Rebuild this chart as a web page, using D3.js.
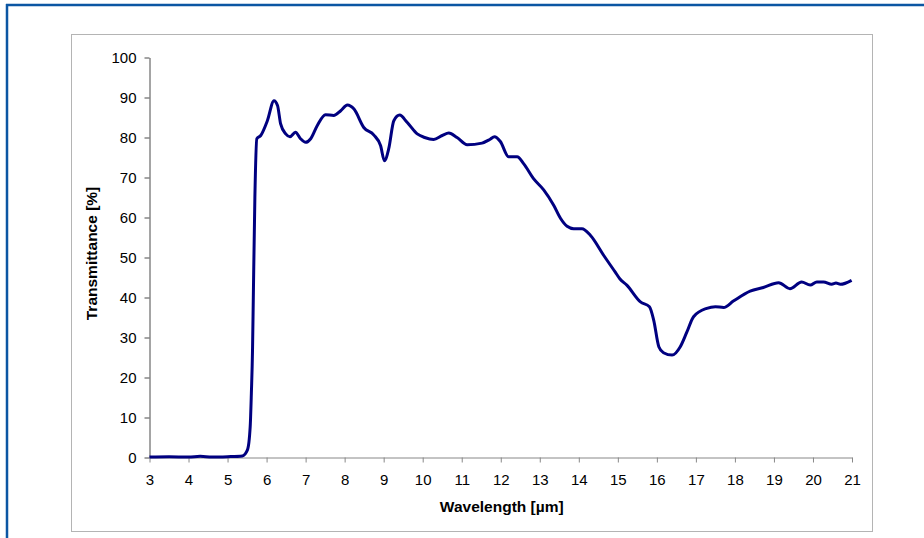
<!DOCTYPE html>
<html>
<head>
<meta charset="utf-8">
<script src="https://cdn.jsdelivr.net/npm/d3@7"></script>
<style>
  body { margin: 0; background: #fff; }
  svg { display: block; font-family: "Liberation Sans", Arial, sans-serif; }
</style>
</head>
<body>
<svg id="plot" width="924" height="538"></svg>
<script>
// wavelength in µm, transmittance in %
const wavelength = [3.0, 3.5, 4.0, 4.3, 4.6, 5.0, 5.38, 5.51, 5.58, 5.61, 5.64, 5.66, 5.70, 5.75, 5.85,
  6.02, 6.19, 6.28, 6.36, 6.49, 6.6, 6.74, 6.87, 7.0, 7.13, 7.3, 7.51, 7.72, 7.9, 8.07, 8.24, 8.49,
  8.75, 8.92, 9.02, 9.13, 9.26, 9.41, 9.6, 9.86, 10.05, 10.28, 10.5, 10.67, 10.88, 11.14, 11.52, 11.72,
  11.84, 11.99, 12.2, 12.42, 12.59, 12.84, 13.1, 13.36, 13.53, 13.7, 13.87, 14.08, 14.3, 14.64, 14.93,
  15.05, 15.23, 15.58, 15.81, 15.92, 16.05, 16.17, 16.39, 16.6, 16.77, 16.94, 17.28, 17.5, 17.71, 17.96,
  18.39, 18.73, 19.12, 19.41, 19.71, 19.93, 20.1, 20.27, 20.48, 20.59, 20.7, 20.99];
const transmittance = [0.1, 0.2, 0.1, 0.3, 0.1, 0.2, 0.4, 1.9, 7.7, 16, 27, 40, 65, 79.7, 80.5,
  84.2, 89.2, 88.0, 83.4, 80.9, 80.2, 81.3, 79.7, 78.8, 79.7, 83.0, 85.7, 85.5, 86.7, 88.1, 87.1, 82.5,
  80.6, 78.0, 74.2, 77.2, 84.2, 85.6, 83.8, 80.9, 80.0, 79.5, 80.5, 81.1, 80.0, 78.2, 78.6, 79.5,
  80.2, 79.0, 75.2, 75.2, 73.4, 69.7, 66.9, 63.0, 59.8, 57.8, 57.2, 57.2, 55.5, 50.5, 46.4,
  44.7, 43.1, 38.9, 37.7, 34.3, 27.7, 26.2, 25.6, 27.7, 31.4, 35.2, 37.3, 37.7, 37.5, 39.1,
  41.6, 42.5, 43.7, 42.2, 43.9, 43.1, 43.9, 43.9, 43.3, 43.6, 43.3, 44.3];
const xTicks = d3.range(3, 22, 1);
const yTicks = d3.range(0, 101, 10);

const data = wavelength.map((w, i) => ({ w: w, t: transmittance[i] }));

const svg = d3.select("#plot");

// outer frame (blue top and left edges)
svg.append("line").attr("x1", 6).attr("y1", 5).attr("x2", 924).attr("y2", 5)
  .attr("stroke", "#0b56a3").attr("stroke-width", 2.5);
svg.append("line").attr("x1", 7).attr("y1", 4).attr("x2", 7).attr("y2", 538)
  .attr("stroke", "#0b56a3").attr("stroke-width", 2.5);

// chart area box
svg.append("rect")
  .attr("x", 71.5).attr("y", 34.5).attr("width", 801).attr("height", 497)
  .attr("fill", "#fff").attr("stroke", "#b4b4b4");

const plotLeft = 149.5, plotRight = 852, plotTop = 57.5, plotBottom = 457.5;

const x = d3.scaleLinear().domain([3, 21]).range([plotLeft, plotRight]);
const y = d3.scaleLinear().domain([0, 100]).range([plotBottom, plotTop]);

// y axis
const yAxis = svg.append("g")
  .attr("transform", "translate(" + plotLeft + ",0)")
  .call(d3.axisLeft(y).tickValues(yTicks).tickSize(5).tickPadding(8).tickSizeOuter(0));
yAxis.select(".domain").attr("stroke", "#4a4a4a");
yAxis.selectAll(".tick line").attr("stroke", "#4a4a4a");
yAxis.selectAll("text").attr("font-size", 15).attr("fill", "#000")
  .attr("font-family", "'Liberation Sans', Arial, sans-serif");

// x axis
const xAxis = svg.append("g")
  .attr("transform", "translate(0," + plotBottom + ")")
  .call(d3.axisBottom(x).tickValues(xTicks).tickSize(5).tickPadding(12).tickSizeOuter(0));
xAxis.select(".domain").attr("stroke", "#888");
xAxis.selectAll(".tick line").attr("stroke", "#888");
xAxis.selectAll("text").attr("font-size", 15).attr("fill", "#000")
  .attr("font-family", "'Liberation Sans', Arial, sans-serif");

// axis titles
svg.append("text")
  .attr("transform", "translate(97," + ((plotTop + plotBottom) / 2 - 4) + ") rotate(-90)")
  .attr("text-anchor", "middle")
  .attr("font-size", 15.5).attr("font-weight", "bold")
  .text("Transmittance [%]");
svg.append("text")
  .attr("x", (plotLeft + plotRight) / 2 + 1).attr("y", 512)
  .attr("text-anchor", "middle")
  .attr("font-size", 15.5).attr("font-weight", "bold")
  .text("Wavelength [µm]");

// spectrum line
const line = d3.line()
  .x(d => x(d.w))
  .y(d => y(d.t))
  .curve(d3.curveMonotoneX);

svg.append("path")
  .datum(data)
  .attr("d", line)
  .attr("fill", "none")
  .attr("stroke", "#000080")
  .attr("stroke-width", 3)
  .attr("stroke-linejoin", "round");
</script>
</body>
</html>
